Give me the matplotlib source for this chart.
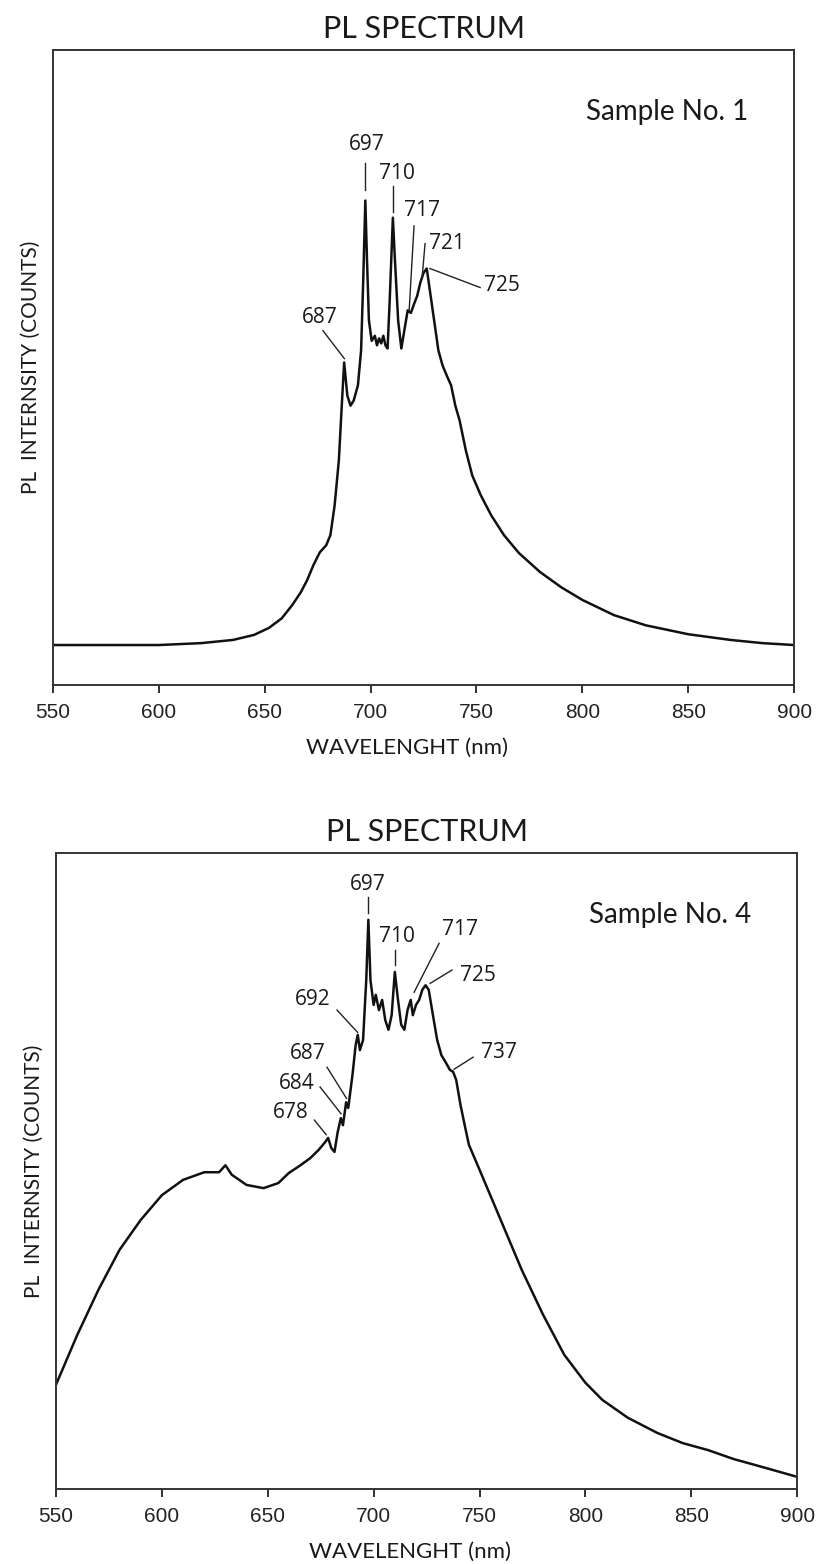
import numpy as np
import matplotlib
matplotlib.use("Agg")
import matplotlib.pyplot as plt

# ---- Sample No. 1 spectrum (wavelength nm, counts)
wl_s1 = [550, 575, 600, 620, 635, 645, 652, 658, 663, 667,
         670, 673, 676, 679, 681, 683, 685, 686.5, 687.5, 689,
         690.5, 692, 694, 695.5, 696.5, 697.5, 698.3, 699.2, 700.5, 702,
         703, 704, 705, 706, 707, 708, 709, 710.5, 711.5, 713,
         714.5, 716, 717.5, 719, 720.5, 722, 723.5, 725, 726.5, 728,
         730, 732, 734, 736, 738, 740, 742, 745, 748, 752,
         757, 763, 770, 780, 790, 800, 815, 830, 850, 870,
         885, 900]
counts_s1 = [63, 63, 63, 66, 71, 79, 90, 105, 126, 146,
             165, 189, 209, 220, 236, 283, 354, 448, 508, 456,
             440, 448, 472, 527, 637, 763, 668, 574, 542, 550,
             535, 546, 538, 550, 535, 530, 605, 736, 668, 574,
             530, 560, 590, 586, 600, 613, 634, 649, 656, 621,
             574, 527, 503, 487, 472, 440, 417, 369, 330, 299,
             267, 236, 208, 178, 154, 134, 110, 94, 80, 71,
             66, 63]

# ---- Sample No. 4 spectrum
wl_s4 = [550, 555, 560, 570, 580, 590, 600, 610, 620, 627,
         630, 633, 640, 648, 655, 660, 665, 670, 674, 677,
         678.5, 680, 681.5, 683, 684.5, 685.5, 687, 688, 690, 691.5,
         692.5, 693.5, 695, 696.5, 697.5, 698.5, 700, 701, 702.5, 704,
         705.5, 707, 708.5, 710, 711.5, 713, 714.5, 716, 717.5, 718.5,
         720, 721.5, 723, 724.5, 726, 728, 730, 732, 734, 736,
         737.5, 739, 741, 743, 745, 750, 760, 770, 780, 790,
         800, 808, 820, 834, 846, 858, 870, 883, 900]
counts_s4 = [164, 203, 242, 313, 376, 423, 462, 486, 498, 498,
             509, 494, 478, 473, 481, 497, 508, 520, 533, 545,
             552, 536, 530, 561, 583, 572, 608, 599, 651, 698,
             714, 690, 706, 800, 895, 800, 761, 777, 753, 769,
             737, 722, 745, 813, 769, 730, 722, 753, 769, 745,
             761, 769, 785, 792, 785, 745, 706, 682, 671, 659,
             656, 643, 604, 572, 541, 502, 423, 344, 274, 211,
             167, 140, 112, 88, 72, 61, 47, 35, 19]

# peak labels: (text, line start wl, line start counts, line end wl, line end counts, text wl, text counts)
peaks_s1 = [("697", 697.5, 822, 697.5, 780, 698.0, 852),
            ("710", 710.5, 786, 710.5, 745, 712.5, 806),
            ("717", 720.5, 723, 718.2, 590, 724.3, 747),
            ("721", 725.7, 695, 724.3, 641, 736.1, 695),
            ("725", 751.7, 626, 728.0, 656, 762.0, 629),
            ("687", 677.5, 558, 687.6, 514, 676.1, 579)]
peaks_s4 = [("697", 697.5, 931, 697.5, 906, 697.4, 950),
            ("710", 710.0, 847, 710.0, 824, 711.0, 868),
            ("717", 730.9, 858, 719.1, 781, 740.8, 879),
            ("725", 737.0, 816, 726.7, 795, 749.3, 808),
            ("692", 682.7, 753, 692.4, 718, 671.4, 769),
            ("687", 678.0, 663, 687.2, 614, 669.0, 685),
            ("684", 674.7, 632, 684.6, 590, 663.8, 638),
            ("678", 672.0, 580, 677.6, 557, 661.0, 592),
            ("737", 747.0, 679, 738.0, 660, 759.2, 687)]

xticks = [550, 600, 650, 700, 750, 800, 850, 900]

label_font = ["Lato", "DejaVu Sans"]
num_font = ["Open Sans", "DejaVu Sans"]
tick_font = ["Liberation Sans Narrow", "Liberation Sans", "DejaVu Sans"]

fig = plt.figure(figsize=(8.18, 15.64), dpi=100)
ax1 = fig.add_axes([0.0648, 0.562, 0.906, 0.406])
ax2 = fig.add_axes([0.0685, 0.048, 0.906, 0.4066])

panels = [(ax1, wl_s1, counts_s1, peaks_s1, "Sample No. 1"),
          (ax2, wl_s4, counts_s4, peaks_s4, "Sample No. 4")]

for ax, wl, counts, peaks, name in panels:
    ax.plot(wl, counts, color="#111111", lw=1.8)
    ax.set_xlim(550, 900)
    ax.set_ylim(0, 1000)
    ax.set_xticks(xticks)
    ax.set_yticks([])
    for sp in ax.spines.values():
        sp.set_color("#333333")
        sp.set_linewidth(1.4)
    ax.tick_params(axis="x", direction="out", length=6, width=1.3,
                   labelsize=15, pad=7, color="#222222")
    for lab in ax.get_xticklabels():
        lab.set_family(tick_font)
        lab.set_color("#222222")
    ax.set_title("PL SPECTRUM", fontsize=22, family=label_font, pad=9, color="#1a1a1a")
    ax.set_xlabel("WAVELENGHT (nm)", fontsize=16, family=label_font, color="#1a1a1a")
    ax.xaxis.set_label_coords(0.478, -0.083)
    ax.set_ylabel("PL  INTERNSITY (COUNTS)", fontsize=15, family=label_font, labelpad=9, color="#1a1a1a")
    ax.text(0.828, 0.903, name, transform=ax.transAxes,
            ha="center", va="center", fontsize=20, family=label_font, color="#1a1a1a")
    for txt, x0, y0, x1, y1, tx, ty in peaks:
        ax.plot([x0, x1], [y0, y1], color="#222222", lw=1.0)
        ax.text(tx, ty, txt, ha="center", va="center", fontsize=15,
                family=num_font, color="#1a1a1a")

fig.savefig("out.png", dpi=100, facecolor="white")
